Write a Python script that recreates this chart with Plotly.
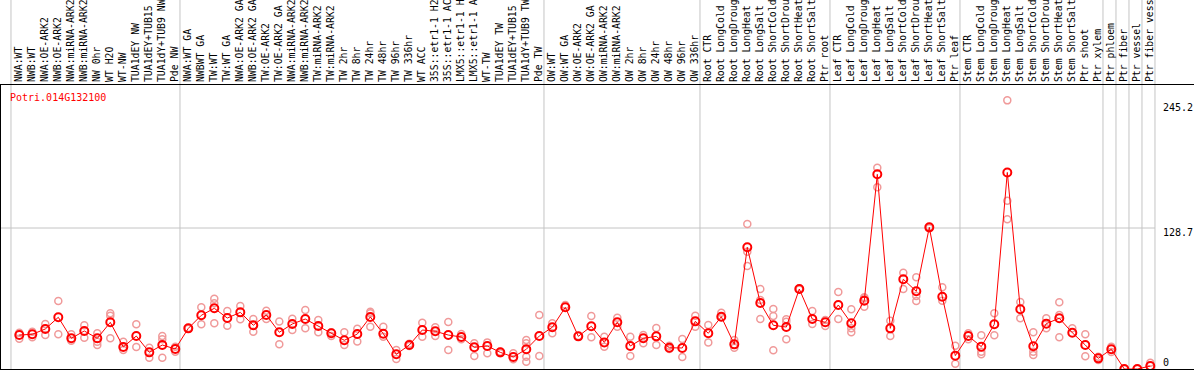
import plotly.graph_objects as go

title_text = "Potri.014G132100"

categories = [
    "NWA:WT", "NWB:WT", "NWA:OE-ARK2", "NWB:OE-ARK2", "NWA:miRNA-ARK2", "NWB:miRNA-ARK2",
    "NW 0hr", "WT H2O", "WT-NW", "TUA1dEY NW", "TUA1dEY+TUB15 NW", "TUA1dY+TUB9 NW", "Pde NW",
    "NWA:WT GA", "NWBWT GA", "TW:WT", "TW:WT GA", "NWA:OE-ARK2 GA", "NWB:OE-ARK2 GA",
    "TW:OE-ARK2", "TW:OE-ARK2 GA", "NWA:miRNA-ARK2 GA", "NWB:miRNA-ARK2 GA", "TW:miRNA-ARK2",
    "TW:miRNA-ARK2 GA", "TW 2hr", "TW 8hr", "TW 24hr", "TW 48hr", "TW 96hr", "TW 336hr",
    "WT ACC", "35S::etr1-1 H2O", "35S::etr1-1 ACC", "LMX5::etr1-1 H2O", "LMX5::etr1-1 ACC",
    "WT-TW", "TUA1dEY TW", "TUA1dEY+TUB15 TW", "TUA1dY+TUB9 TW", "Pde TW",
    "OW:WT", "OW:WT GA", "OW:OE-ARK2", "OW:OE-ARK2 GA", "OW:miRNA-ARK2", "OW:miRNA-ARK2 GA",
    "OW 2hr", "OW 8hr", "OW 24hr", "OW 48hr", "OW 96hr", "OW 336hr",
    "Root CTR", "Root LongCold", "Root LongDrought", "Root LongHeat", "Root LongSalt",
    "Root ShortCold", "Root ShortDrought", "Root ShortHeat", "Root ShortSalt", "Ptr root",
    "Leaf CTR", "Leaf LongCold", "Leaf LongDrought", "Leaf LongHeat", "Leaf LongSalt",
    "Leaf ShortCold", "Leaf ShortDrought", "Leaf ShortHeat", "Leaf ShortSalt", "Ptr leaf",
    "Stem CTR", "Stem LongCold", "Stem LongDrought", "Stem LongHeat", "Stem LongSalt",
    "Stem ShortCold", "Stem ShortDrought", "Stem ShortHeat", "Stem ShortSalt", "Ptr shoot",
    "Ptr xylem", "Ptr phloem", "Ptr fiber", "Ptr vessel", "Ptr fiber vessel",
]

means = [
    31.0, 31.7, 36.5, 47.2, 28.0, 34.7, 28.0, 42.6, 20.1, 30.1, 15.2, 21.9, 18.3,
    37.1, 49.0, 55.4, 46.5, 51.7, 39.9, 49.3, 33.5, 41.1, 45.6, 39.2, 32.6, 26.2, 31.9,
    47.5, 32.2, 13.4, 21.9, 35.6, 34.4, 31.0, 29.2, 19.8, 21.0, 15.2, 11.0, 18.0, 30.1,
    38.1, 56.3, 29.8, 39.0, 24.3, 42.6, 21.0, 28.0, 29.8, 19.4, 19.2, 43.5,
    32.6, 47.7, 22.5, 111.1, 60.2, 39.9, 38.3, 73.0, 45.6, 42.6,
    58.4, 41.7, 62.4, 177.7, 37.1, 81.9, 70.9, 129.3, 66.0, 12.2,
    30.1, 20.4, 40.8, 179.4, 54.5, 20.7, 41.4, 46.3, 33.1, 21.9, 9.7,
    18.0, 0.0, 0.0, 2.7,
]

replicates = [
    [33.1, 27.7], [34.0, 28.9], [41.1, 31.0], [62.1, 31.7], [31.7, 25.8], [39.9, 28.6],
    [32.6, 24.9, 21.9], [50.8, 48.7, 28.0], [24.9, 17.3], [40.8, 20.1], [19.4, 10.3],
    [30.1, 27.1, 10.3], [20.4, 15.8],
    [37.5, 36.8], [56.3, 40.8], [64.2, 60.0, 41.7], [52.9, 39.5], [57.5, 45.4], [45.6, 34.0],
    [53.2, 45.6], [43.4, 22.5], [45.9, 35.6], [53.9, 37.1], [44.7, 33.5], [33.5, 30.1],
    [33.5, 21.9], [36.8, 25.2], [52.3, 50.8, 38.6], [38.6, 29.5], [17.3, 9.1], [21.0, 23.0],
    [42.3, 29.5], [38.1, 30.1], [42.9, 17.3], [31.9, 27.1], [23.4, 11.9], [24.3, 14.3],
    [15.8, 14.3], [14.3, 8.9], [26.5, 23.4, 11.2, 6.7], [49.3, 11.9],
    [41.7, 32.6], [58.4], [30.1], [48.4, 28.9], [29.5, 20.4], [46.8, 38.6], [29.5, 11.9],
    [31.0, 23.4], [37.4, 21.9], [21.3, 18.3], [27.4, 11.0], [48.7, 38.6],
    [40.2, 24.3], [51.4, 47.2], [26.5, 19.4], [132.3, 107.1, 94.0], [73.0, 63.0, 45.6],
    [54.8, 48.4, 17.1], [45.4, 43.2, 27.1], [73.5, 72.5], [52.9, 41.1], [44.7, 39.2],
    [70.3, 45.6], [54.5, 37.1, 33.5], [65.4, 64.5, 56.9], [183.7, 165.8], [44.1, 30.1],
    [87.9, 73.0], [83.7, 66.6, 62.1], [129.5, 128.5], [74.6, 62.4], [21.3, 4.8],
    [32.6, 27.1], [30.8, 15.8, 13.4], [50.8, 30.8], [245.2, 153.6, 136.6], [61.2, 46.3],
    [33.5, 15.8, 12.8], [46.3, 37.1], [60.9, 49.3, 28.9], [37.1], [31.7, 11.6], [11.2, 8.2],
    [20.4, 15.6], [0.0], [0.0], [5.8],
]

group_starts = [0, 13, 41, 53, 63, 73, 84, 85, 86, 87, 88]
y_labels = ["245.2", "128.7", "0"]
y_grid_value = 128.7

W, H = 1194, 370
ML, MR, MT, MB = 1, 0, 85, 1
FONT = "DejaVu Sans Mono"
MAX_LABEL_CHARS = 14

# the label band only has room for ~14 characters, as in the reference
tick_text = [c[:MAX_LABEL_CHARS].rstrip() for c in categories]

rep_x, rep_y = [], []
for i, reps in enumerate(replicates):
    for v in reps:
        rep_x.append(i)
        rep_y.append(v)

x_idx = list(range(len(categories)))

fig = go.Figure()
fig.add_trace(go.Scatter(
    x=rep_x, y=rep_y, mode="markers",
    marker=dict(symbol="circle-open", size=7, color="#f09a9a", line=dict(width=1.5, color="#f09a9a")),
    hoverinfo="skip", showlegend=False,
))
fig.add_trace(go.Scatter(
    x=x_idx, y=means, mode="lines+markers",
    line=dict(color="#ff0000", width=1),
    marker=dict(symbol="circle-open", size=8, color="#ff0000", line=dict(width=2, color="#ff0000")),
    text=categories, showlegend=False,
))

plot_w = W - ML - MR
px_per_cat = 13.0
first_center_px = 19.3
x0 = -(first_center_px - ML) / px_per_cat
x1 = x0 + plot_w / px_per_cat

plot_h = H - MT - MB
px_per_unit = 141.0 / 128.7
y_top = plot_h / px_per_unit

grid_color = "#c4c4c4"
shapes = []
for g in group_starts:
    gx = g - 0.64
    shapes.append(dict(type="line", xref="x", yref="paper", x0=gx, x1=gx, y0=0, y1=(H - MB) / plot_h + 0.01,
                       line=dict(color=grid_color, width=1), layer="below"))
shapes.append(dict(type="line", xref="x", yref="y", x0=x0, x1=group_starts[-1] - 0.64,
                   y0=y_grid_value, y1=y_grid_value, line=dict(color=grid_color, width=1), layer="below"))

def ypaper(px):
    return (H - MB - px) / plot_h

annotations = [
    dict(text=title_text, xref="paper", yref="paper", x=(8 - ML) / plot_w, y=ypaper(97),
         xanchor="left", yanchor="middle", showarrow=False,
         font=dict(family=FONT, size=10, color="#ff0000")),
]
label_pos = [107, 232, 362]
for lab, py in zip(y_labels, label_pos):
    annotations.append(dict(text=lab, xref="paper", yref="paper", x=(1161 - ML) / plot_w, y=ypaper(py),
                            xanchor="left", yanchor="middle", showarrow=False,
                            font=dict(family=FONT, size=10, color="#000000")))

fig.update_layout(
    width=W, height=H,
    margin=dict(l=ML, r=MR, t=MT, b=MB, pad=0),
    paper_bgcolor="white", plot_bgcolor="white",
    showlegend=False,
    xaxis=dict(
        range=[x0, x1], side="top", tickmode="array", tickvals=x_idx, ticktext=tick_text,
        tickangle=-90, tickfont=dict(family=FONT, size=9.8, color="#000000"),
        showgrid=False, zeroline=False, ticks="", showline=True, linecolor="#000000",
        linewidth=1, mirror=True, automargin=False, fixedrange=True,
    ),
    yaxis=dict(
        range=[0, y_top], showticklabels=False, showgrid=False, zeroline=False, ticks="",
        showline=True, linecolor="#000000", linewidth=1, mirror=False, fixedrange=True,
    ),
    shapes=shapes, annotations=annotations,
)

fig.write_html("out.html", config={"displayModeBar": False},
               post_script="document.body.style.margin='0px';document.body.style.padding='0px';")
